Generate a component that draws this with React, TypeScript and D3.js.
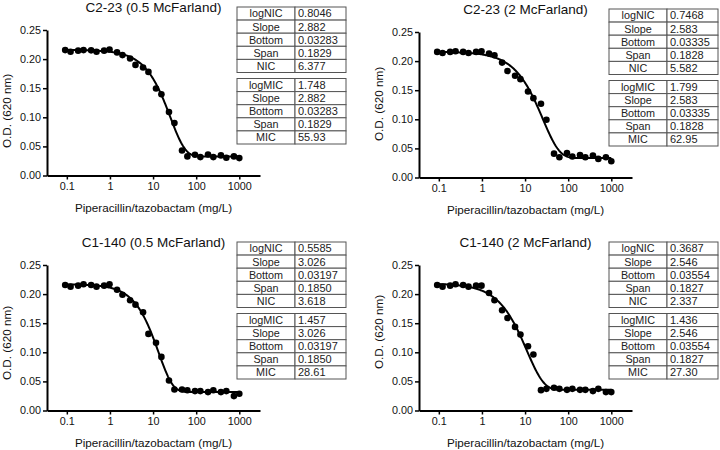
import React, { useRef, useEffect } from "react";
import * as d3 from "d3";

// Concentrations (mg/L), two interleaved two-fold dilution series
const concentrations = [
  0.0916, 0.122, 0.183, 0.244, 0.366, 0.488, 0.732, 0.977, 1.46, 1.95, 2.93, 3.91, 5.86, 7.81,
  11.7, 15.6, 23.4, 31.3, 46.9, 62.5, 93.8, 125, 188, 250, 375, 500, 750, 1000,
];

const xTicks = [0.1, 1, 10, 100, 1000];
const xTickLabels = ["0.1", "1", "10", "100", "1000"];
const yTicks = [0, 0.05, 0.1, 0.15, 0.2, 0.25];
const yTickLabels = ["0.00", "0.05", "0.10", "0.15", "0.20", "0.25"];

const titles = [
  "C2-23 (0.5 McFarland)",
  "C2-23 (2 McFarland)",
  "C1-140 (0.5 McFarland)",
  "C1-140 (2 McFarland)",
];

const odC2_23_05 = [
  0.2155, 0.2126, 0.2145, 0.2155, 0.215, 0.2126, 0.2145, 0.2165, 0.2115, 0.2069, 0.2011, 0.19,
  0.1856, 0.178, 0.1495, 0.1397, 0.109, 0.09, 0.043, 0.0328, 0.0357, 0.0316, 0.0362, 0.0316,
  0.0345, 0.0305, 0.0328, 0.0299,
];
const odC2_23_2 = [
  0.2158, 0.214, 0.2158, 0.2169, 0.2158, 0.214, 0.2158, 0.2169, 0.2129, 0.21, 0.1974, 0.183,
  0.1747, 0.169, 0.1478, 0.1363, 0.1267, 0.0993, 0.041, 0.0348, 0.042, 0.036, 0.0387, 0.0348,
  0.0377, 0.032, 0.0348, 0.028,
];
const odC1_140_05 = [
  0.2157, 0.2128, 0.2145, 0.2168, 0.2157, 0.2128, 0.2145, 0.2168, 0.2076, 0.199, 0.1894, 0.1819,
  0.1688, 0.1316, 0.1162, 0.0921, 0.0515, 0.036, 0.036, 0.0349, 0.0333, 0.0333, 0.0316, 0.0349,
  0.0316, 0.0333, 0.0247, 0.0287,
];
const odC1_140_2 = [
  0.2157, 0.2128, 0.2145, 0.2168, 0.2157, 0.2128, 0.2145, 0.2145, 0.202, 0.1894, 0.1722, 0.159,
  0.1436, 0.1304, 0.1105, 0.0961, 0.035, 0.0372, 0.039, 0.0372, 0.0355, 0.0372, 0.0355, 0.0355,
  0.0333, 0.0372, 0.0316, 0.0316,
];

const nicLabels = ["logNIC", "Slope", "Bottom", "Span", "NIC"];
const micLabels = ["logMIC", "Slope", "Bottom", "Span", "MIC"];

const nicValues = [
  ["0.8046", "2.882", "0.03283", "0.1829", "6.377"],
  ["0.7468", "2.583", "0.03335", "0.1828", "5.582"],
  ["0.5585", "3.026", "0.03197", "0.1850", "3.618"],
  ["0.3687", "2.546", "0.03554", "0.1827", "2.337"],
];
const micValues = [
  ["1.748", "2.882", "0.03283", "0.1829", "55.93"],
  ["1.799", "2.583", "0.03335", "0.1828", "62.95"],
  ["1.457", "3.026", "0.03197", "0.1850", "28.61"],
  ["1.436", "2.546", "0.03554", "0.1827", "27.30"],
];

const seriesList = [odC2_23_05, odC2_23_2, odC1_140_05, odC1_140_2];

// layout
const layouts = [
  { ox: 47, top: 30, yLab: 81 },
  { ox: 419, top: 32, yLab: 72 },
  { ox: 47, top: 265, yLab: 78 },
  { ox: 419, top: 265, yLab: 67 },
];
const W = 213;
const H = 145.5;
const FONT = "'Liberation Sans', Arial, Helvetica, sans-serif";

function Table({ x, y, labels, values }: any) {
  const rowH = 13.1;
  const w = 109;
  const div = 58;
  return (
    <g>
      {labels.map((lab: string, i: number) => (
        <g key={i}>
          <rect x={x} y={y + i * rowH} width={div} height={rowH} fill="white" stroke="#555" strokeWidth={1} />
          <rect x={x + div} y={y + i * rowH} width={w - div} height={rowH} fill="white" stroke="#555" strokeWidth={1} />
          <text x={x + div / 2} y={y + i * rowH + rowH / 2 + 3.9} textAnchor="middle" fontSize={10.8} fill="#222" fontFamily={FONT}>
            {lab}
          </text>
          <text x={x + div + 3} y={y + i * rowH + rowH / 2 + 3.9} textAnchor="start" fontSize={11} fill="#222" fontFamily={FONT}>
            {values[i]}
          </text>
        </g>
      ))}
    </g>
  );
}

function Panel({ idx }: { idx: number }) {
  const L = layouts[idx];
  const values = seriesList[idx];
  const xRef = useRef<SVGGElement>(null);
  const yRef = useRef<SVGGElement>(null);
  const x = d3.scaleLog().domain([Math.pow(10, -1.46), Math.pow(10, 3.48)]).range([L.ox, L.ox + W]);
  const y = d3.scaleLinear().domain([0, 0.25]).range([L.top + H, L.top]);

  const slope = parseFloat(micValues[idx][1]);
  const bottom = parseFloat(micValues[idx][2]);
  const span = parseFloat(micValues[idx][3]);
  const logMIC = parseFloat(micValues[idx][0]);
  const M = logMIC - 1 / slope;
  const fit = (c: number) => bottom + span * Math.exp(-Math.exp(slope * (Math.log10(c) - M)));
  const lo = Math.log10(concentrations[0]);
  const hi = Math.log10(concentrations[concentrations.length - 1]);
  const curvePts = d3.range(0, 201).map((i) => {
    const c = Math.pow(10, lo + ((hi - lo) * i) / 200);
    return [x(c), y(fit(c))] as [number, number];
  });
  const line = d3.line().curve(d3.curveLinear)(curvePts) || "";

  useEffect(() => {
    const gx = d3.select(xRef.current!);
    gx.selectAll("*").remove();
    gx.call(
      d3
        .axisBottom(x)
        .tickValues(xTicks)
        .tickFormat((_d: any, i: number) => xTickLabels[i])
        .tickSize(4)
        .tickSizeOuter(0)
        .tickPadding(3)
    );
    const gy = d3.select(yRef.current!);
    gy.selectAll("*").remove();
    gy.call(
      d3
        .axisLeft(y)
        .tickValues(yTicks)
        .tickFormat((_d: any, i: number) => yTickLabels[i])
        .tickSize(4)
        .tickSizeOuter(0)
        .tickPadding(2)
    );
    [gx, gy].forEach((g) => {
      g.attr("font-family", FONT).attr("font-size", 10.8);
      g.select(".domain").attr("stroke", "#000").attr("stroke-width", 2);
      g.selectAll(".tick line").attr("stroke", "#000").attr("stroke-width", 1.5);
      g.selectAll(".tick text").attr("fill", "#111");
    });
  });

  return (
    <g>
      <text x={L.ox + W / 2} y={L.top - 18.5} textAnchor="middle" fontSize={13.5} fontFamily={FONT} fill="#111">
        {titles[idx]}
      </text>
      <g ref={xRef} transform={`translate(0,${L.top + H})`} />
      <g ref={yRef} transform={`translate(${L.ox},0)`} />
      <text x={L.ox + W / 2} y={L.top + H + 36} textAnchor="middle" fontSize={11.7} fontFamily={FONT} fill="#111">
        Piperacillin/tazobactam (mg/L)
      </text>
      <text
        transform={`translate(${L.ox - 36},${L.top + L.yLab}) rotate(-90)`}
        textAnchor="middle"
        fontSize={11.7}
        fontFamily={FONT}
        fill="#111"
      >
        O.D. (620 nm)
      </text>
      <path d={line} fill="none" stroke="#000" strokeWidth={2} />
      {values.map((v, i) => (
        <circle key={i} cx={x(concentrations[i])} cy={y(v)} r={3.3} fill="#000" />
      ))}
      <Table x={L.ox + 190} y={L.top - 23} labels={nicLabels} values={nicValues[idx]} />
      <Table x={L.ox + 190} y={L.top + 48.5} labels={micLabels} values={micValues[idx]} />
    </g>
  );
}

export default function App() {
  return (
    <svg
      width={720}
      height={450}
      style={{ position: "absolute", left: 0, top: 0, background: "white" }}
    >
      <rect width={720} height={450} fill="white" />
      {[0, 1, 2, 3].map((i) => (
        <Panel key={i} idx={i} />
      ))}
    </svg>
  );
}
